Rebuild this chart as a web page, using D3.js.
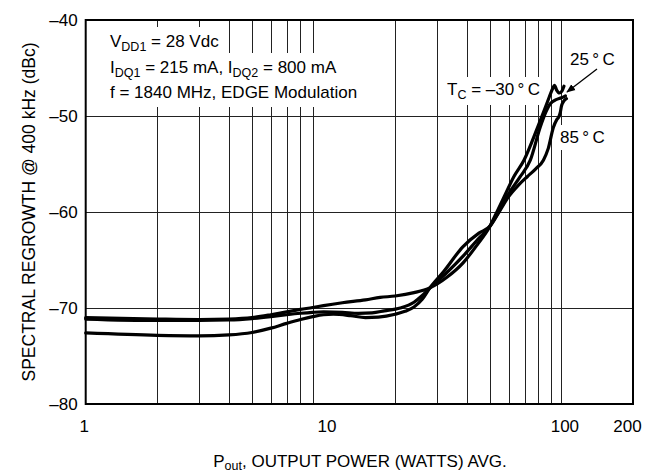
<!DOCTYPE html>
<html>
<head>
<meta charset="utf-8">
<script src="https://cdn.jsdelivr.net/npm/d3@7"></script>
<style>
  html, body { margin: 0; padding: 0; background: #fff; }
  svg { display: block; font-family: "Liberation Sans", Arial, Helvetica, sans-serif; }
</style>
</head>
<body>
<svg id="chart" width="645" height="475"></svg>
<script>
// ---------------- data ----------------
const xTickValues = [1, 10, 100, 200];
const yTickValues = [-80, -70, -60, -50, -40];
const xGridValues = [2, 3, 4, 5, 6, 7, 8, 9, 20, 30, 40, 50, 60, 70, 80, 90, 100];
const yGridValues = [-70, -60, -50];

// T_C = -30 °C
const powerCold = [1, 2, 3, 4, 5, 6, 7, 8, 9, 10, 12, 15, 17.3, 20, 24, 28, 33, 38.6, 44, 50, 54, 58, 63, 69.6, 79.5, 85, 89, 92, 93.5, 95.5, 98, 100.5, 102.5];
const regrowthCold = [-71.0, -71.15, -71.2, -71.15, -71.0, -70.7, -70.4, -70.15, -69.95, -69.75, -69.45, -69.15, -68.9, -68.75, -68.4, -67.9, -66.8, -65.3, -63.5, -61.5, -59.8, -58.2, -56.35, -54.6, -51.15, -49.3, -48.0, -47.1, -46.8, -47.3, -47.6, -47.4, -46.9];

// 25 °C
const powerRoom = [1, 2, 3, 4, 5, 6, 7, 8, 9, 10, 12, 14, 16, 18, 21, 24, 26, 28, 33, 38.6, 44, 50, 55, 60, 67, 74, 81.5, 86, 90, 95, 100, 104];
const regrowthRoom = [-71.15, -71.3, -71.3, -71.25, -71.1, -70.9, -70.7, -70.55, -70.45, -70.4, -70.45, -70.55, -70.5, -70.3, -70.0, -69.4, -68.7, -67.9, -66.3, -64.6, -63.0, -61.5, -59.8, -58.1, -56.35, -54.6, -51.15, -49.6, -48.7, -48.3, -48.1, -47.9];

// 85 °C
const powerHot = [1, 2, 3, 4, 5, 6, 7, 8, 9, 10, 11, 13, 15, 17, 20, 22, 24, 26, 28, 32, 38.6, 45, 50, 55, 60, 66, 72, 78, 84, 88, 92.5, 95.5, 97.5, 99, 100, 102, 105];
const regrowthHot = [-72.6, -72.85, -72.9, -72.8, -72.55, -72.1, -71.6, -71.2, -70.9, -70.7, -70.65, -70.8, -71.0, -70.95, -70.65, -70.35, -69.9, -69.1, -67.9, -66.2, -63.6, -62.2, -61.5, -59.9, -58.4, -57.2, -56.3, -55.5, -54.6, -53.4, -51.2, -50.4, -50.1, -49.6, -49.0, -48.5, -48.2];

const seriesNames = ["-30°C", "25°C", "85°C"];

// ---------------- chart ----------------
const svg = d3.select("#chart");
const x = d3.scaleLog().domain([1, 200]).range([85.7, 633]);
const y = d3.scaleLinear().domain([-80, -40]).range([404, 20]);

const series = [
  { name: seriesNames[0], p: powerCold, v: regrowthCold },
  { name: seriesNames[1], p: powerRoom, v: regrowthRoom },
  { name: seriesNames[2], p: powerHot, v: regrowthHot }
];

// grid
const grid = svg.append("g").attr("stroke", "#222").attr("stroke-width", 1);
grid.selectAll("line.v").data(xGridValues).join("line")
  .attr("class", "v")
  .attr("x1", d => Math.round(x(d)) + 0.5).attr("x2", d => Math.round(x(d)) + 0.5)
  .attr("y1", y(-40)).attr("y2", y(-80));
grid.selectAll("line.h").data(yGridValues).join("line")
  .attr("class", "h")
  .attr("x1", x(1)).attr("x2", x(200))
  .attr("y1", d => Math.round(y(d)) + 0.5).attr("y2", d => Math.round(y(d)) + 0.5);

// annotation layers
const bgLayer = svg.append("g");
const curveLayer = svg.append("g");
const textLayer = svg.append("g").attr("font-size", 17).attr("fill", "#000");

function addText(parent, xp, yp, parts, anchor) {
  const t = parent.append("text").attr("x", xp).attr("y", yp).attr("text-anchor", anchor || "start");
  let shifted = false;
  parts.forEach(p => {
    const ts = t.append("tspan").text(p.s);
    if (p.sub) {
      ts.attr("font-size", 12.5).attr("dy", 4);
      shifted = true;
    } else if (shifted) {
      ts.attr("dy", -4);
      shifted = false;
    }
  });
  return t;
}
function whiteBg(t, padX, padY) {
  const b = t.node().getBBox();
  bgLayer.append("rect")
    .attr("x", b.x - padX).attr("y", b.y - padY)
    .attr("width", b.width + 2 * padX).attr("height", b.height + 2 * padY)
    .attr("fill", "#fff");
}

const t1 = addText(textLayer, 110, 47, [{ s: "V" }, { s: "DD1", sub: true }, { s: " = 28 Vdc" }]);
const t2 = addText(textLayer, 110, 73, [{ s: "I" }, { s: "DQ1", sub: true }, { s: " = 215 mA, I" }, { s: "DQ2", sub: true }, { s: " = 800 mA" }]);
const t3 = addText(textLayer, 110, 98, [{ s: "f = 1840 MHz, EDGE Modulation" }]);
const tTc = addText(textLayer, 447, 95, [{ s: "T" }, { s: "C", sub: true }, { s: " = \u201330\u2009\u00B0\u2009C" }]);
const t25 = addText(textLayer, 570, 65, [{ s: "25\u2009\u00B0\u2009C" }]);
const t85 = addText(textLayer, 560, 143, [{ s: "85\u2009\u00B0\u2009C" }]);
[t1, t2, t3].forEach(t => whiteBg(t, 6, 5));
whiteBg(tTc, 5, 3);
whiteBg(t85, 4, 3);

// curves
const line = d3.line()
  .x(d => x(d[0]))
  .y(d => y(d[1]))
  .curve(d3.curveMonotoneX);
curveLayer.selectAll("path").data(series).join("path")
  .attr("d", s => line(s.p.map((p, i) => [p, s.v[i]])))
  .attr("fill", "none")
  .attr("stroke", "#000")
  .attr("stroke-width", 3.2)
  .attr("stroke-linejoin", "round")
  .attr("stroke-linecap", "round");

// arrow for 25 °C
const defs = svg.append("defs");
defs.append("marker").attr("id", "ah").attr("viewBox", "0 0 10 10")
  .attr("refX", 9).attr("refY", 5).attr("markerWidth", 9).attr("markerHeight", 9)
  .attr("markerUnits", "userSpaceOnUse").attr("orient", "auto")
  .append("path").attr("d", "M0,1 L10,5 L0,9 Z").attr("fill", "#000");
svg.append("line")
  .attr("x1", 597).attr("y1", 69).attr("x2", 567).attr("y2", 92)
  .attr("stroke", "#000").attr("stroke-width", 1.3).attr("marker-end", "url(#ah)");

// frame
svg.append("rect")
  .attr("x", x(1)).attr("y", y(-40))
  .attr("width", x(200) - x(1)).attr("height", y(-80) - y(-40))
  .attr("fill", "none").attr("stroke", "#000").attr("stroke-width", 2);

// axes
const fmtY = d => String(d).replace("-", "\u2013");
const yAxis = svg.append("g").attr("transform", `translate(${x(1) - 6},0)`)
  .call(d3.axisLeft(y).tickValues(yTickValues).tickSize(0).tickPadding(2).tickFormat(fmtY));
yAxis.select(".domain").remove();
yAxis.selectAll("text").attr("font-size", 17).attr("font-family", "Liberation Sans, Arial, sans-serif").attr("fill", "#000");

const xAxis = svg.append("g").attr("transform", `translate(0,${y(-80)})`)
  .call(d3.axisBottom(x).tickValues(xTickValues).tickSize(0).tickPadding(16).tickFormat(d3.format("d")));
xAxis.select(".domain").remove();
xAxis.selectAll("text").attr("font-size", 17).attr("font-family", "Liberation Sans, Arial, sans-serif").attr("fill", "#000")
  .attr("dx", d => d === 200 ? -6 : (d === 1 ? -2 : 3));

// axis titles
svg.append("text")
  .attr("transform", "translate(35,212) rotate(-90)")
  .attr("text-anchor", "middle").attr("font-size", 17.5)
  .text("SPECTRAL REGROWTH @ 400 kHz (dBc)");

const xt = svg.append("text").attr("x", 360).attr("y", 467).attr("text-anchor", "middle").attr("font-size", 17);
xt.append("tspan").text("P");
xt.append("tspan").attr("font-size", 12.5).attr("dy", 3).text("out");
xt.append("tspan").attr("dy", -3).text(", OUTPUT POWER (WATTS) AVG.");
</script>
</body>
</html>
